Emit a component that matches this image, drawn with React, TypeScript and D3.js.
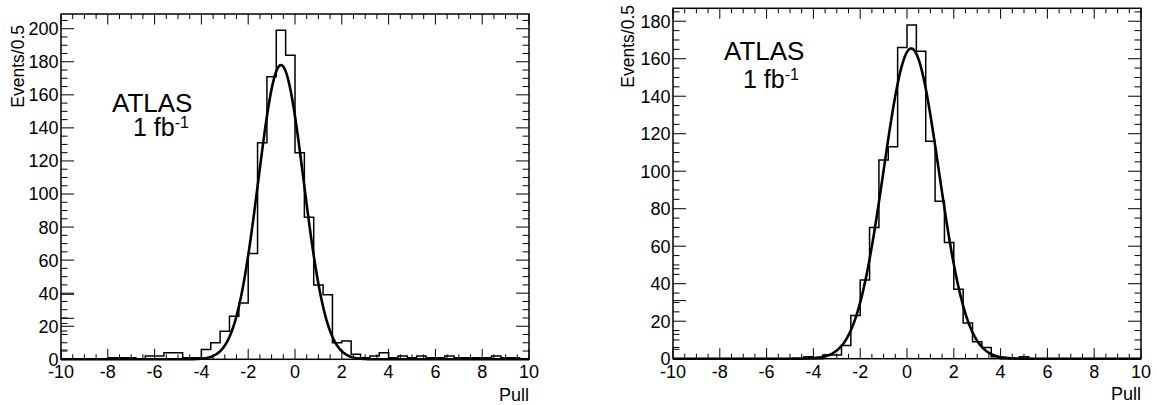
import React from "react";
import * as d3 from "d3";

// ---------- data ----------
const BIN_START = -10;
const BIN_WIDTH = 0.4;
const X_DOMAIN = [-10, 10];

// left panel: 50 bins of 0.4 from -10 to 10
const leftCounts = [
  0, 0, 0, 0, 0, 1, 1, 1, 0, 2,
  2, 4, 4, 1, 1, 6, 10, 17, 26, 34,
  64, 131, 171, 199, 184, 125, 86, 45, 39, 10,
  11, 3, 1, 2, 4, 1, 2, 1, 2, 1,
  1, 2, 1, 1, 1, 1, 2, 1, 1, 0,
];

// right panel
const rightCounts = [
  0, 0, 0, 0, 0, 0, 0, 0, 0, 0,
  0, 0, 0, 0, 1, 0, 2, 2, 7, 23,
  42, 70, 106, 113, 166, 178, 164, 116, 84, 62,
  37, 19, 9, 6, 1, 0, 0, 1, 0, 0,
  0, 0, 0, 0, 0, 0, 0, 0, 0, 0,
];

// gaussian fit parameters
const leftFit = { amplitude: 178, mean: -0.6, sigma: 0.97 };
const rightFit = { amplitude: 165.5, mean: 0.18, sigma: 1.18 };

const xTickLabels = [-10, -8, -6, -4, -2, 0, 2, 4, 6, 8, 10];
const leftYTicks = [0, 20, 40, 60, 80, 100, 120, 140, 160, 180, 200];
const rightYTicks = [0, 20, 40, 60, 80, 100, 120, 140, 160, 180];
const leftYMax = 208.9;
const rightYMax = 186.9;

// stray extra tick marks visible on the left y axes of the original
const leftExtraTicks = [39.3, 24.8, 21.7, 17.1, 5.6];
const leftExtraMajor = [39.3, 24.8];
const rightExtraTicks = [48, 31, 13, 6];
const rightExtraMajor = [31];

const yTitle = "Events/0.5";
const xTitle = "Pull";
const expLabel = "ATLAS";
const lumiLabel = "1 fb";
const lumiExp = "-1";

const FONT = "'Liberation Sans', Arial, Helvetica, sans-serif";

type Frame = { x0: number; x1: number; y0: number; y1: number };
type Fit = { amplitude: number; mean: number; sigma: number };

function Panel(props: {
  counts: number[];
  fit: Fit;
  frame: Frame;
  yMax: number;
  yTicks: number[];
  extraTicks: number[];
  extraMajor: number[];
  atlas: { x: number; y: number; lx: number; ly: number };
  yTitlePos: { x: number; y: number };
}) {
  const { counts, fit, frame, yMax, yTicks, extraTicks, extraMajor, atlas, yTitlePos } = props;
  const x = d3.scaleLinear().domain(X_DOMAIN).range([frame.x0, frame.x1]);
  const y = d3.scaleLinear().domain([0, yMax]).range([frame.y1, frame.y0]);

  // histogram outline
  const pts: [number, number][] = [[BIN_START, 0]];
  counts.forEach((c, i) => {
    const lo = BIN_START + i * BIN_WIDTH;
    const hi = lo + BIN_WIDTH;
    pts.push([lo, c]);
    pts.push([hi, c]);
  });
  pts.push([BIN_START + counts.length * BIN_WIDTH, 0]);
  const line = d3
    .line<[number, number]>()
    .x((d) => x(d[0]))
    .y((d) => y(d[1]));
  const histPath = line(pts) || "";

  const fitPts: [number, number][] = d3
    .range(X_DOMAIN[0], X_DOMAIN[1] + 0.001, 0.05)
    .map((v) => [
      v,
      fit.amplitude * Math.exp(-((v - fit.mean) ** 2) / (2 * fit.sigma * fit.sigma)),
    ]);
  const fitPath =
    d3
      .line<[number, number]>()
      .x((d) => x(d[0]))
      .y((d) => y(Math.min(d[1], yMax)))(fitPts) || "";

  const xMinor = d3.range(X_DOMAIN[0], X_DOMAIN[1] + 0.001, 0.5);
  const yMinor = d3.range(0, yMax, 5);

  const xMajLen = 10.5;
  const xMinLen = 5;
  const yMajLen = 13;
  const yMinLen = 6.5;

  return (
    <g>
      {/* ticks */}
      <g stroke="#000" strokeWidth={1}>
        {xMinor.map((v) => {
          const major = Math.abs(v / 2 - Math.round(v / 2)) < 1e-6;
          const len = major ? xMajLen : xMinLen;
          return (
            <g key={"xt" + v}>
              <line x1={x(v)} x2={x(v)} y1={frame.y1} y2={frame.y1 - len} />
              <line x1={x(v)} x2={x(v)} y1={frame.y0} y2={frame.y0 + len} />
            </g>
          );
        })}
        {yMinor.map((v) => {
          const major = v % 20 === 0;
          const len = major ? yMajLen : yMinLen;
          return (
            <g key={"yt" + v}>
              <line x1={frame.x0} x2={frame.x0 + len} y1={y(v)} y2={y(v)} />
              <line x1={frame.x1} x2={frame.x1 - len} y1={y(v)} y2={y(v)} />
            </g>
          );
        })}
        {extraTicks.map((v) => (
          <line
            key={"ex" + v}
            x1={frame.x0}
            x2={frame.x0 + (extraMajor.includes(v) ? yMajLen : yMinLen)}
            y1={y(v)}
            y2={y(v)}
          />
        ))}
      </g>

      {/* histogram */}
      <path d={histPath} fill="none" stroke="#000" strokeWidth={1.5} />
      {/* fit */}
      <path d={fitPath} fill="none" stroke="#000" strokeWidth={2.6} />

      {/* frame */}
      <rect
        x={frame.x0}
        y={frame.y0}
        width={frame.x1 - frame.x0}
        height={frame.y1 - frame.y0}
        fill="none"
        stroke="#000"
        strokeWidth={1.5}
      />

      {/* tick labels */}
      <g fontFamily={FONT} fontSize={18} fill="#000">
        {xTickLabels.map((v) => (
          <text key={"xl" + v} x={x(v)} y={frame.y1 + 19} textAnchor="middle">
            {v}
          </text>
        ))}
        {yTicks.map((v) => (
          <text
            key={"yl" + v}
            x={frame.x0 - 2.5}
            y={y(v)}
            dy="0.36em"
            textAnchor="end"
          >
            {v}
          </text>
        ))}
        <text x={frame.x1} y={frame.y1 + 41.5} textAnchor="end">
          {xTitle}
        </text>
      </g>
      <text
        fontFamily={FONT}
        fontSize={17.5}
        textAnchor="end"
        transform={`translate(${yTitlePos.x},${yTitlePos.y}) rotate(-90)`}
      >
        {yTitle}
      </text>

      {/* ATLAS label */}
      <g fontFamily={FONT} fill="#000">
        <text x={atlas.x} y={atlas.y} fontSize={26}>
          {expLabel}
        </text>
        <text x={atlas.lx} y={atlas.ly} fontSize={25}>
          {lumiLabel}
          <tspan fontSize={16} dy={-8}>
            {lumiExp}
          </tspan>
        </text>
      </g>
    </g>
  );
}

export default function App() {
  return (
    <svg
      width={1157}
      height={405}
      style={{ position: "absolute", left: 0, top: 0, background: "#fff" }}
    >
      <rect x={0} y={0} width={1157} height={405} fill="#fff" />
      <Panel
        counts={leftCounts}
        fit={leftFit}
        frame={{ x0: 61, x1: 529, y0: 14, y1: 359.3 }}
        yMax={leftYMax}
        yTicks={leftYTicks}
        extraTicks={leftExtraTicks}
        extraMajor={leftExtraMajor}
        atlas={{ x: 112, y: 112, lx: 133, ly: 136 }}
        yTitlePos={{ x: 24, y: 25 }}
      />
      <Panel
        counts={rightCounts}
        fit={rightFit}
        frame={{ x0: 673, x1: 1141, y0: 8.3, y1: 358.7 }}
        yMax={rightYMax}
        yTicks={rightYTicks}
        extraTicks={rightExtraTicks}
        extraMajor={rightExtraMajor}
        atlas={{ x: 724, y: 59.5, lx: 743, ly: 88 }}
        yTitlePos={{ x: 634, y: 5 }}
      />
    </svg>
  );
}
